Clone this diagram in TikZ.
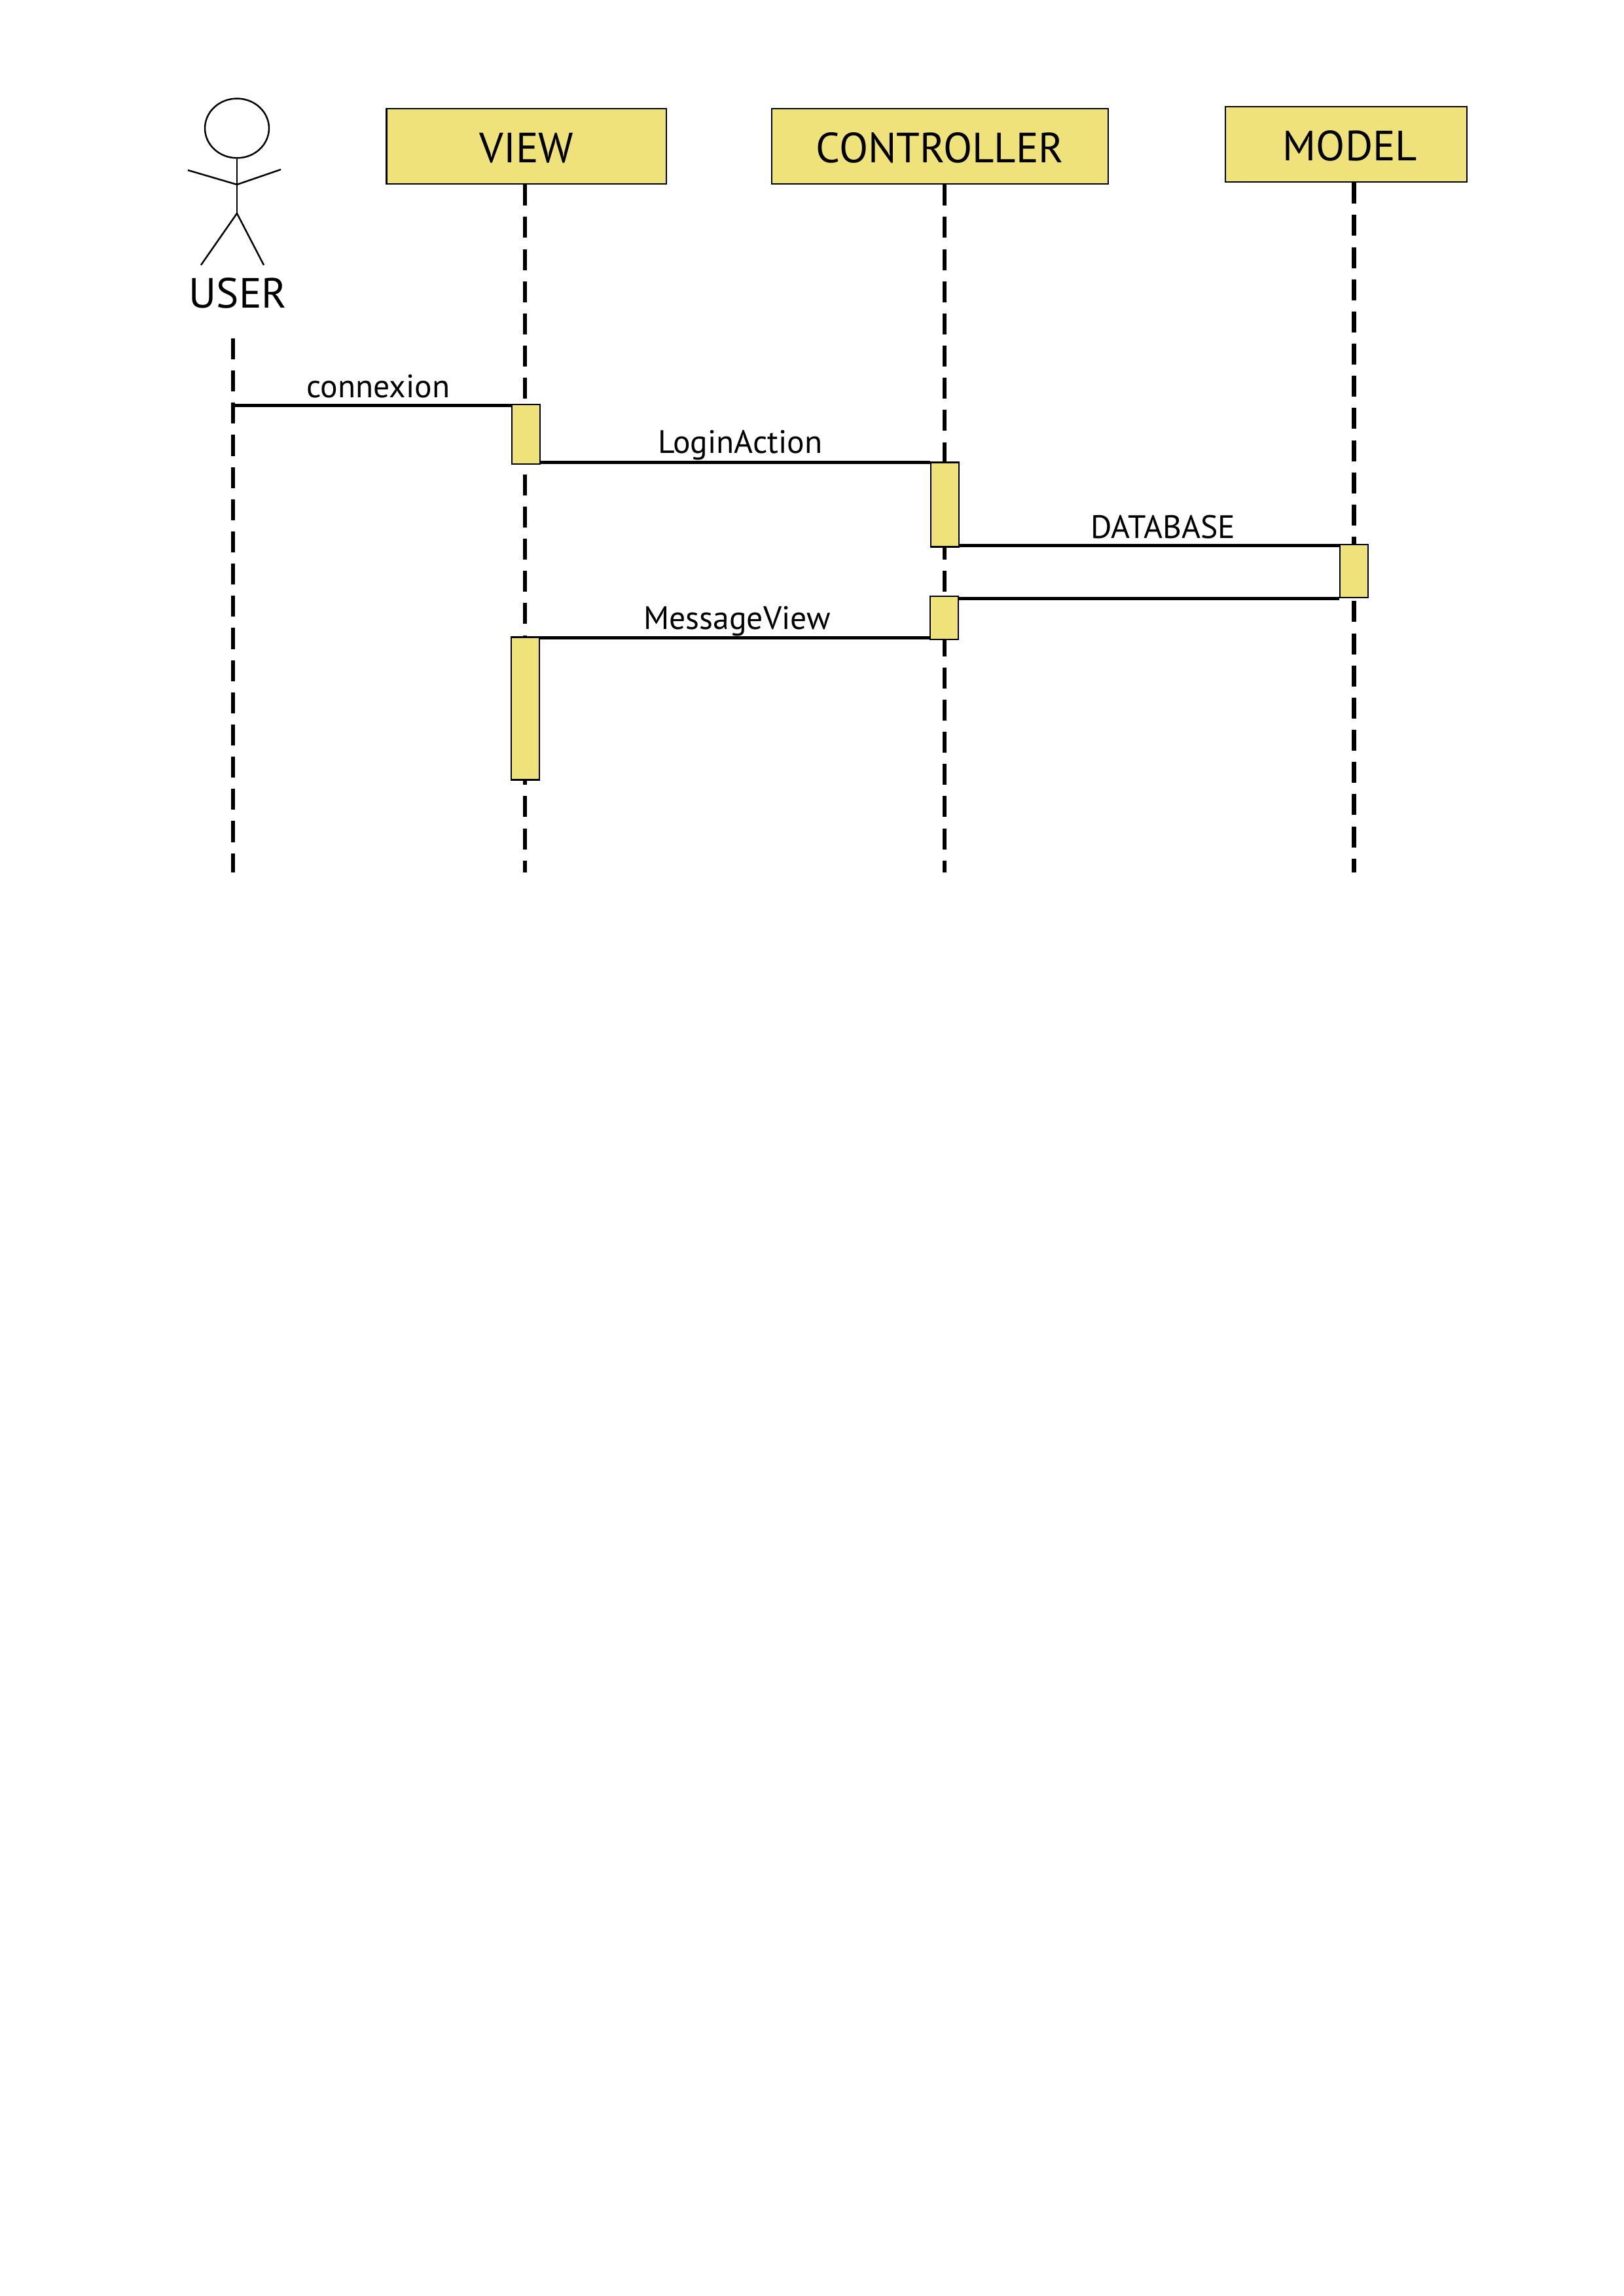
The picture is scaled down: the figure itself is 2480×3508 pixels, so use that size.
\documentclass[tikz,border=0pt]{standalone}
\usepackage{fontspec}
\setmainfont{PT Sans}
\usetikzlibrary{shapes.geometric}
\definecolor{boxyellow}{RGB}{239,226,122}
\tikzset{
head/.style={draw,rectangle,fill=boxyellow,line width=0.6pt,inner sep=0pt,
minimum height=27.6pt,text height=12pt,text depth=0pt,font=\fontsize{15.5}{15.5}\selectfont},
act/.style={draw,rectangle,fill=boxyellow,line width=0.6pt,inner sep=0pt,minimum width=10.3pt},
lifeline/.style={line width=1.5pt,dash pattern=on 7.7pt off 4.1pt},
msg/.style={line width=1.2pt},
stick/.style={line width=0.6pt},
lbl/.style={anchor=base,inner sep=0pt,font=\fontsize{11.9}{11.9}\selectfont}
}
\begin{document}
\begin{tikzpicture}[x=0.24pt,y=-0.24pt]
\useasboundingbox (0,0) rectangle (2480,3508);

\node[draw,ellipse,stick,inner sep=0pt,
minimum width=23.5pt,minimum height=21.8pt](face) at (362,196){};
\coordinate (shoulder) at (362,282);
\coordinate (handl) at (287,260);
\coordinate (handr) at (429,259);
\coordinate (hip) at (362,326);
\coordinate (footl) at (307,405);
\coordinate (footr) at (403,405);
\node[anchor=base,inner sep=0pt,font=\fontsize{15.5}{15.5}\selectfont](user) at (363.5,471){USER};

\draw [stick] (face) to (hip);
\draw [stick] (handl) to (shoulder);
\draw [stick] (handr) to (shoulder);
\draw [stick] (footl) to (hip);
\draw [stick] (footr) to (hip);

\node[head,minimum width=102.6pt](view) at (804.3,223.5){VIEW};
\node[head,minimum width=123.4pt](controller) at (1436,223.5){CONTROLLER};
\node[head,minimum width=88.6pt](model) at (2056.3,220.5){\hspace*{3pt}MODEL};

\coordinate (userstart) at (356,517);
\coordinate (userend) at (356,1333);
\coordinate (viewend) at (802,1333);
\coordinate (controllerend) at (1443,1333);
\coordinate (modelend) at (2068.5,1333);

\draw [lifeline] (userstart) to (userend);
\draw [lifeline] (view.south -| viewend) to (viewend);
\draw [lifeline] (controller.south -| controllerend) to (controllerend);
\draw [lifeline] (model.south -| modelend) to (modelend);

\node[act,minimum height=21.8pt](viewact) at (803.5,663.5){};
\node[act,minimum height=52.3pt](viewret) at (802.5,1082.5){};
\node[act,minimum height=30.9pt](controlleract) at (1443.5,771){};
\node[act,minimum height=15.8pt](controllerret) at (1442.5,944){};
\node[act,minimum height=19.4pt](modelact) at (2068.5,872.5){};

\coordinate (connexionstart) at (356,619.5);

\draw [msg] (connexionstart) to (connexionstart -| viewact.west);
\draw [msg] ([yshift=-0.3pt]viewact.east |- controlleract.north) to ([yshift=-0.3pt]controlleract.north west);
\draw [msg] ([yshift=-0.7pt]controlleract.east |- modelact.north) to ([yshift=-0.7pt]modelact.north west);
\draw [msg] (modelact.south west) to (modelact.south west -| controllerret.east);
\draw [msg] ([yshift=-0.6pt]viewret.north east) to ([yshift=-0.6pt]viewret.north east -| controllerret.west);

\node[lbl](connexion) at (578,608){connexion};
\node[lbl](loginaction) at (1131,693){LoginAction};
\node[lbl](database) at (1777,823){DATABASE};
\node[lbl](messageview) at (1126,961.5){MessageView};
\end{tikzpicture}
\end{document}
